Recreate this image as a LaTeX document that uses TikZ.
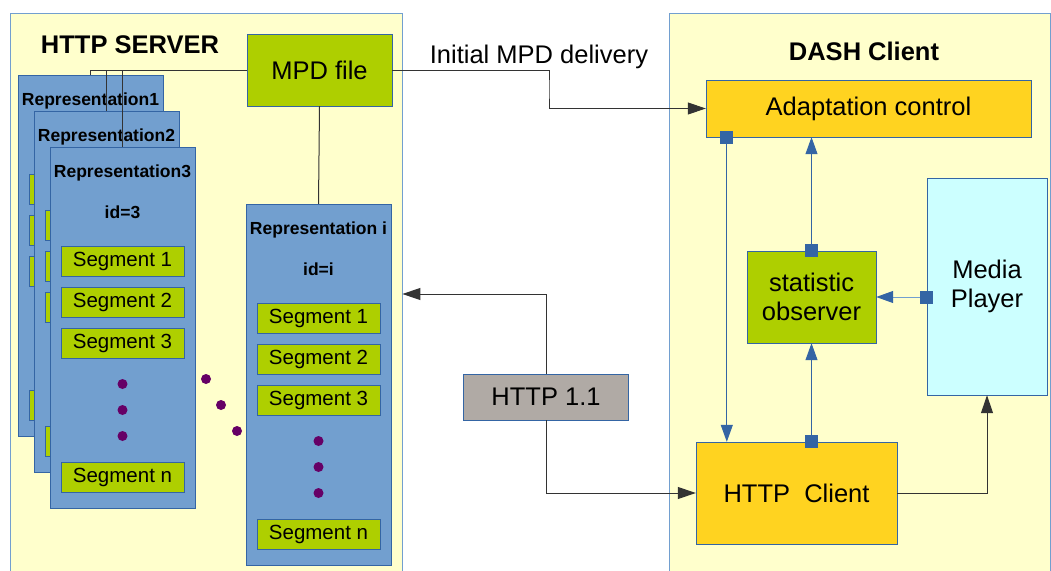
\documentclass[tikz,border=0pt]{standalone}
\usepackage{fontspec}
\setmainfont{Liberation Sans}
\usetikzlibrary{arrows.meta,calc}
\definecolor{panelfill}{RGB}{255,255,204}
\definecolor{panelline}{RGB}{114,159,207}
\definecolor{boxline}{RGB}{52,101,164}
\definecolor{repfill}{RGB}{114,159,207}
\definecolor{greenfill}{RGB}{174,207,0}
\definecolor{goldfill}{RGB}{255,211,32}
\definecolor{cyanfill}{RGB}{204,255,255}
\definecolor{grayfill}{RGB}{176,170,165}
\definecolor{dotc}{RGB}{102,0,102}
% one representation: name, top left x, y, title, id (empty id: box hidden behind the next one)
\newcommand{\repbox}[5]{
  \begin{scope}[shift={(#2,#3)}]
    \node[repr] (#1) at (72.5,180.5) {};
    \node[replabel] at (72.5,26) {#4};
    \ifx&#5&
      \foreach \i in {0,1,2}{
        \node[segm] at (72.5,{114+41*\i}) {};
      }
      \node[segm] at (72.5,330.5) {};
    \else
      \node[replabel] at (72.5,65) {id=#5};
      \foreach \s [count=\i] in {1,2,3}{
        \node[segm] at (72.5,{114+41*(\i-1)}) {Segment \s};
      }
      \foreach \d in {237,263,289}{
        \fill[dotc] (72.5,\d) circle (5pt);
      }
      \node[segm] at (72.5,330.5) {Segment n};
    \fi
  \end{scope}
}

\begin{document}
\begin{tikzpicture}[x=1pt,y=-1pt,
    panel/.style={draw=panelline,fill=panelfill,inner sep=0,line width=0.8pt},
    repr/.style={draw=boxline,fill=repfill,minimum width=145pt,minimum height=361pt,inner sep=0},
    replabel/.style={font=\fontsize{17.5}{21}\selectfont\bfseries},
    segm/.style={draw=boxline,fill=greenfill,minimum width=123pt,minimum height=30pt,inner sep=0,font=\fontsize{20.5}{24}\selectfont},
    box/.style={draw=boxline,inner sep=0,align=center,font=\fontsize{25.5}{29}\selectfont},
    title/.style={anchor=base,font=\fontsize{25.5}{30}\selectfont\bfseries},
    conn/.style={draw=black!80,line width=1pt},
    toarr/.style={conn,-{Triangle[length=18pt,width=12pt]}},
    blu/.style={draw=boxline,line width=1pt,{Square[length=13pt,width=13pt,color=boxline]}-{Triangle[length=17pt,width=12pt,color=boxline]},shorten <=-6.5pt}]
  \useasboundingbox (0,0) rectangle (1051,570);
  \clip (0,0) rectangle (1051,570);

  % the two sides
  \node[panel,minimum width=392pt,minimum height=562pt] (srv) at (206,294) {};
  \node[panel,minimum width=381pt,minimum height=562pt] (cli) at (859.5,294) {};
  \node[title] at (130,53) {HTTP SERVER};
  \node[title] at (864,60) {DASH Client};

  % server
  \node[box,fill=greenfill,minimum width=145pt,minimum height=72pt] (mpd) at (319.5,70) {MPD file};
  \repbox{rep1}{18}{75}{Representation1}{}
  \repbox{rep2}{34}{111}{Representation2}{}
  \repbox{rep3}{50}{147}{Representation3}{3}
  \repbox{repi}{246}{204}{Representation i}{i}
  \foreach \p in {(206,379),(221,405),(237,431)}{
    \fill[dotc] \p circle (5pt);
  }
  \foreach \r in {rep1,rep2,rep3}{
    \draw[conn] (mpd.west) -| (\r.north);
  }
  \draw[conn] (mpd.south) -- (repi.north);

  % client
  \node[box,fill=goldfill,minimum width=325pt,minimum height=57pt] (ac) at (868.5,108.5) {Adaptation control};
  \node[box,fill=greenfill,minimum width=129pt,minimum height=92pt] (obs) at (811.5,297) {statistic\\observer};
  \node[box,fill=cyanfill,minimum width=120pt,minimum height=217pt] (mp) at (987,286.5) {Media\\Player};
  \node[box,fill=goldfill,minimum width=201pt,minimum height=102pt] (hc) at (796.5,493) {HTTP\ \ Client};
  \node[box,fill=grayfill,minimum width=165pt,minimum height=46pt] (http) at (546,397) {HTTP 1.1};

  \draw[toarr] (mpd.east) -| ($(mpd.east)!.5!(ac.west)$) |- (ac.west);
  \node[anchor=base,font=\fontsize{25.5}{30}\selectfont] (imd) at (539,63) {Initial MPD delivery};
  \draw[toarr] (http.north) |- (srv.east);
  \draw[toarr] (http.south) |- (hc.west);
  \draw[toarr] (hc.east) -| (mp.south);

  \draw[blu] ([xshift=21pt]ac.south west) coordinate (acq) -- (acq |- hc.north);
  \draw[blu] (obs.north) -- (obs.north |- ac.south);
  \draw[blu] (obs.south |- hc.north) -- (obs.south);
  \draw[blu,draw=panelline] (mp.west |- obs.east) -- (obs.east);
\end{tikzpicture}
\end{document}
